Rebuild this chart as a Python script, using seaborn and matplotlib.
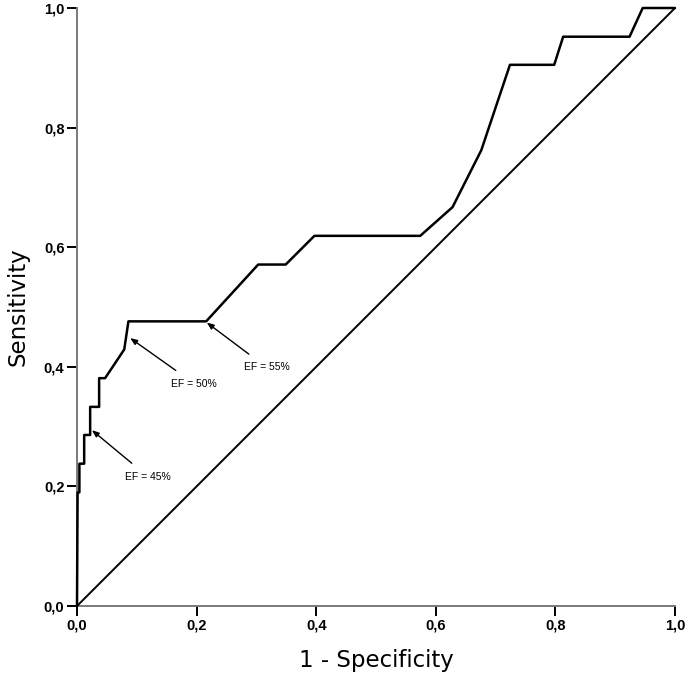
import matplotlib
matplotlib.use("Agg")
import matplotlib.pyplot as plt
import seaborn as sns
import pandas as pd

# ---------------- data ----------------
fpr = [0.0, 0.001, 0.004, 0.004, 0.012, 0.012, 0.022, 0.022, 0.037, 0.037,
       0.047, 0.079, 0.086, 0.216, 0.260, 0.303, 0.349, 0.397, 0.574, 0.628,
       0.676, 0.724, 0.798, 0.813, 0.924, 0.946, 1.0]
tpr = [0.0, 0.190, 0.190, 0.238, 0.238, 0.286, 0.286, 0.333, 0.333, 0.381,
       0.381, 0.429, 0.476, 0.476, 0.524, 0.571, 0.571, 0.619, 0.619, 0.667,
       0.762, 0.905, 0.905, 0.952, 0.952, 1.0, 1.0]
ref_line = [0.0, 1.0]

labels = ["EF = 45%", "EF = 50%", "EF = 55%"]
point_xy = [(0.025, 0.294), (0.089, 0.448), (0.217, 0.474)]
text_xy = [(0.119, 0.216), (0.196, 0.372), (0.317, 0.399)]

ticks = [0.0, 0.2, 0.4, 0.6, 0.8, 1.0]
tick_labels = ["0,0", "0,2", "0,4", "0,6", "0,8", "1,0"]

roc = pd.DataFrame({"fpr": fpr, "tpr": tpr})
diag = pd.DataFrame({"x": ref_line, "y": ref_line})

# ---------------- plot ----------------
sns.set_style("ticks")
plt.rcParams["font.family"] = ["Liberation Sans", "DejaVu Sans"]
plt.rcParams["text.color"] = "black"
plt.rcParams["axes.labelcolor"] = "black"
plt.rcParams["xtick.labelcolor"] = "black"
plt.rcParams["ytick.labelcolor"] = "black"

fig = plt.figure(figsize=(6.92, 6.80), dpi=100)
ax = fig.add_axes([77 / 692, 74 / 680, 598 / 692, 598 / 680])

sns.lineplot(data=diag, x="x", y="y", color="black", linewidth=1.4,
             sort=False, estimator=None, ax=ax, clip_on=False, zorder=3)
sns.lineplot(data=roc, x="fpr", y="tpr", color="black", linewidth=1.8,
             sort=False, estimator=None, ax=ax, clip_on=False, zorder=4)

for lab, pxy, txy in zip(labels, point_xy, text_xy):
    ax.annotate(lab, xy=pxy, xytext=txy, ha="center", va="center",
                fontsize=7.5, color="black",
                arrowprops=dict(arrowstyle="-|>,head_length=0.55,head_width=0.22",
                                color="black", lw=1.0, shrinkA=6, shrinkB=0))

ax.set_xlim(0, 1)
ax.set_ylim(0, 1)
ax.set_xticks(ticks)
ax.set_xticklabels(tick_labels)
ax.set_yticks(ticks)
ax.set_yticklabels(tick_labels)
ax.tick_params(length=7, width=1.4, color="black", labelcolor="black",
               labelsize=10.5, pad=2)
for t in ax.get_xticklabels() + ax.get_yticklabels():
    t.set_fontweight("bold")

sns.despine(ax=ax)
for s in ["left", "bottom"]:
    ax.spines[s].set_color("#7a7a7a")
    ax.spines[s].set_linewidth(1.4)

ax.set_xlabel("1 - Specificity", fontsize=16.5, labelpad=12,
              family="DejaVu Sans", color="black")
ax.set_ylabel("Sensitivity", fontsize=16.5, labelpad=10,
              family="DejaVu Sans", color="black")

fig.savefig("out.png", dpi=100)
